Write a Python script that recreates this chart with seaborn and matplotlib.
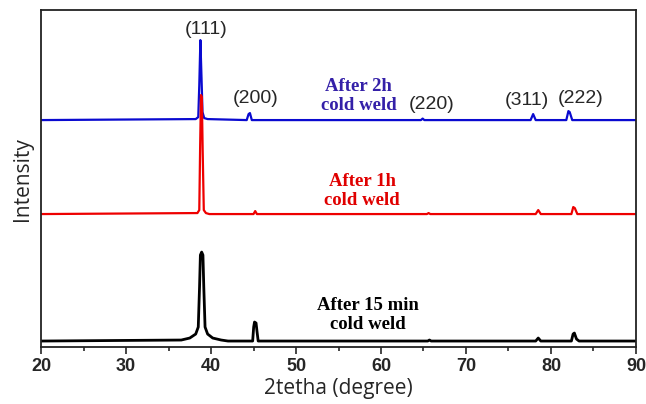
import pandas as pd
import seaborn as sns
import matplotlib.pyplot as plt

# XRD traces (2theta in degree, intensity in arbitrary offset units)
x_2h = [20, 38.2, 38.5, 38.62, 38.75, 38.88, 39.0, 39.2, 39.6, 44.2, 44.42, 44.58, 44.8,
        64.7, 64.9, 65.1, 77.6, 77.9, 78.2, 81.8, 82.05, 82.2, 82.5, 90]
y_2h = [227, 228, 230, 262, 307, 270, 235, 229, 228, 227, 233, 234, 227,
        227, 228.5, 227, 227, 233, 227, 227, 236, 235, 227, 227]

x_1h = [20, 38.4, 38.62, 38.72, 38.82, 38.92, 39.02, 39.15, 39.4, 39.8, 45.0, 45.2, 45.4,
        65.4, 65.6, 65.8, 78.2, 78.5, 78.8, 82.4, 82.62, 82.8, 83.1, 90]
y_1h = [133, 134, 137, 200, 252, 250, 196, 137, 134, 133, 133, 136, 133,
        133, 134, 133, 133, 137, 133, 133, 140, 139, 133, 133]

x_15m = [20, 36.5, 37.5, 38.2, 38.5, 38.65, 38.75, 38.9, 39.05, 39.15, 39.3, 39.6, 40.2, 41.2, 42,
         44.9, 45.02, 45.12, 45.3, 45.42, 45.55, 65.5, 65.7, 65.9, 78.2, 78.5, 78.8,
         82.4, 82.6, 82.75, 83.0, 83.3, 90]
y_15m = [6, 7, 9, 13, 20, 60, 92, 95, 92, 60, 20, 13, 9, 7, 6,
         6, 20, 25, 24, 15, 6, 6, 7, 6, 6, 9, 6,
         6, 13, 14, 8, 6, 6]

peak_labels = ['(111)', '(200)', '(220)', '(311)', '(222)']
peak_label_x = [39.4, 45.2, 66.0, 77.2, 83.5]
peak_label_y = [318, 249, 243, 247, 249]

sample_names = ['After 2h\ncold weld', 'After 1h\ncold weld', 'After 15 min\ncold weld']
sample_colors = ['#3420a8', '#e00000', 'black']
sample_x = [57.4, 57.8, 58.5]
sample_y = [251, 156, 32]

df = pd.concat([
    pd.DataFrame({'x': x_2h, 'y': y_2h, 'sample': '2h'}),
    pd.DataFrame({'x': x_1h, 'y': y_1h, 'sample': '1h'}),
    pd.DataFrame({'x': x_15m, 'y': y_15m, 'sample': '15min'}),
])

sns.set_style('ticks')
plt.rcParams['font.family'] = ['Liberation Sans', 'DejaVu Sans']

fig = plt.figure(figsize=(6.46, 4.04), dpi=100)
ax = fig.add_axes([0.0635, 0.141, 0.921, 0.834])

line_colors = {'2h': '#0a0ad0', '1h': '#ee0000', '15min': 'black'}
widths = {'2h': 1.6, '1h': 1.6, '15min': 2.0}
for s in ['2h', '1h', '15min']:
    sub = df[df['sample'] == s]
    sns.lineplot(data=sub, x='x', y='y', color=line_colors[s], lw=widths[s],
                 sort=False, estimator=None, ax=ax)

for lab, px, py in zip(peak_labels, peak_label_x, peak_label_y):
    ax.text(px, py, lab, ha='center', va='center', fontsize=14,
            family=['Liberation Sans', 'DejaVu Sans'])

for name, c, px, py in zip(sample_names, sample_colors, sample_x, sample_y):
    ax.text(px, py, name, ha='center', va='center', fontsize=13.5, color=c,
            fontweight='bold', family=['Liberation Serif', 'DejaVu Serif'],
            linespacing=1.2)

ax.set_xlim(20, 90)
ax.set_ylim(0, 337)
ax.set_xticks(range(20, 91, 10))
ax.set_xticks(range(25, 90, 10), minor=True)
ax.set_yticks([])
ax.tick_params(axis='x', which='major', direction='out', length=5, width=1.2,
               labelsize=13, pad=3)
ax.tick_params(axis='x', which='minor', direction='out', length=3, width=1.2)
for t in ax.get_xticklabels():
    t.set_fontweight('bold')
for sp in ax.spines.values():
    sp.set_linewidth(1.3)
    sp.set_color('#222222')

ax.set_xlabel('2tetha (degree)', fontsize=15, family=['Open Sans', 'DejaVu Sans'], labelpad=2)
ax.set_ylabel('Intensity', fontsize=15, family=['Open Sans', 'DejaVu Sans'], labelpad=6)

fig.savefig('out.png', dpi=100)
